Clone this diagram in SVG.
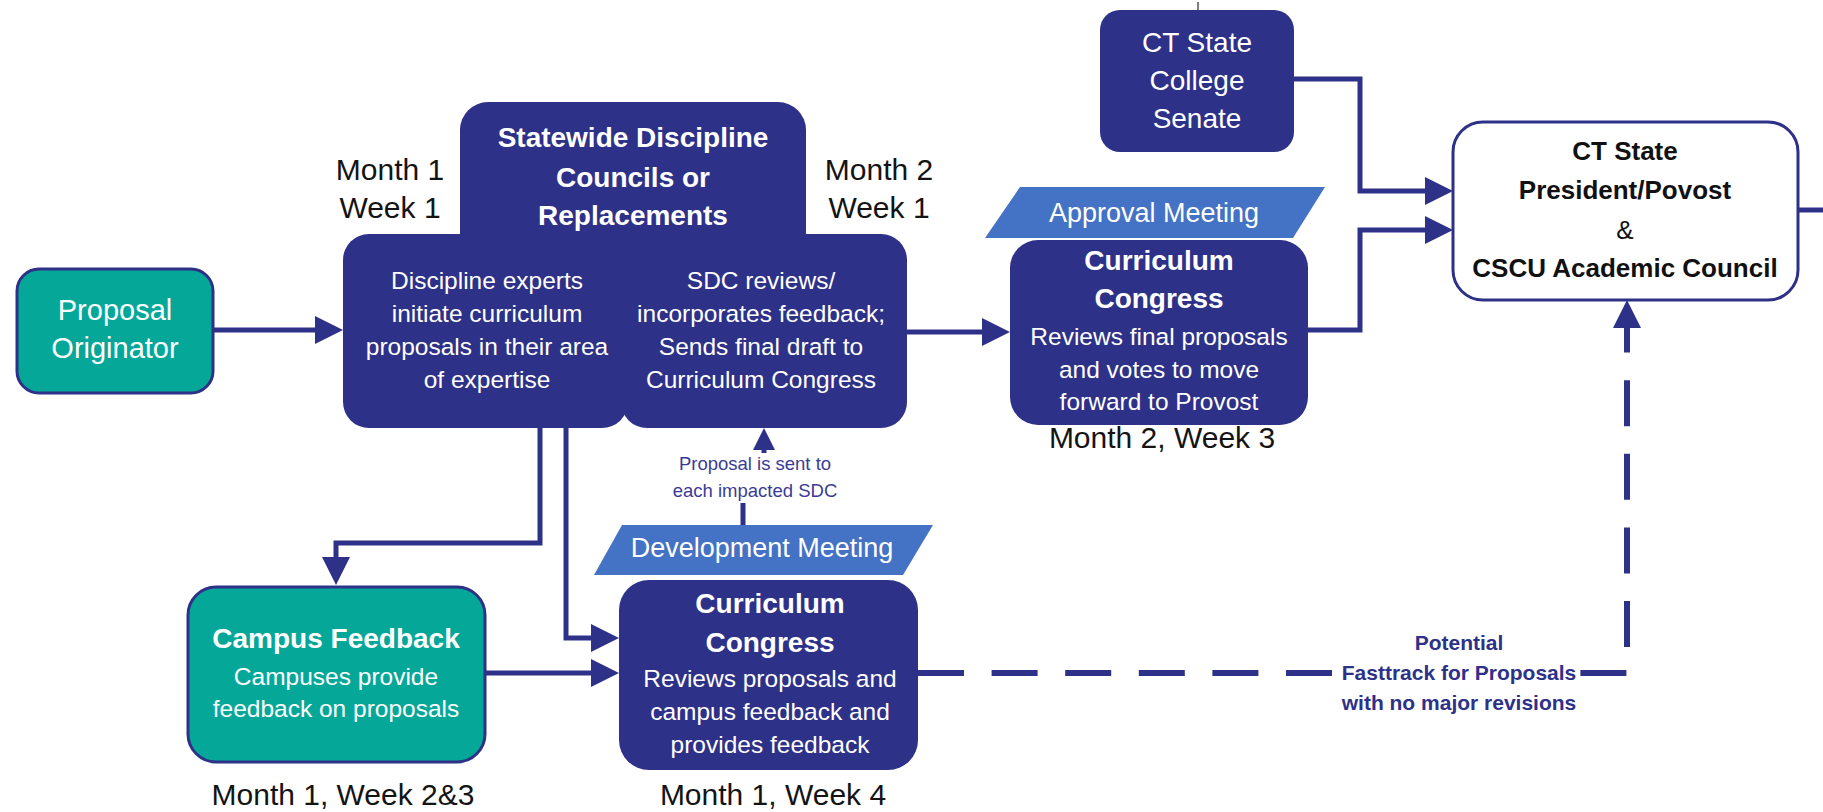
<svg xmlns="http://www.w3.org/2000/svg" width="1823" height="812" viewBox="0 0 1823 812">
<defs>
<style>
text{font-family:"Liberation Sans",Arial,sans-serif;text-anchor:middle}
.navy{fill:#2E3188}
.teal{fill:#05A898;stroke:#2E3188;stroke-width:3}
.para{fill:#4472C4}
.w{fill:#ffffff}
.b{font-weight:bold}
.body{font-size:24.5px}
.ttl{font-size:28px;font-weight:bold}
.month{font-size:30px;fill:#141414}
.conn{fill:none;stroke:#2E3188;stroke-width:5}
.dash{fill:none;stroke:#2E3188;stroke-width:6;stroke-dasharray:46 27.6}
</style>
<marker id="ah" viewBox="0 0 28 28" refX="8" refY="14" markerWidth="28" markerHeight="28" markerUnits="userSpaceOnUse" orient="auto">
<path d="M0,0 L28,14 L0,28 Z" fill="#2E3188"/>
</marker>
<marker id="ahs" viewBox="0 0 22 22" refX="4" refY="11" markerWidth="22" markerHeight="22" markerUnits="userSpaceOnUse" orient="auto">
<path d="M0,0 L22,11 L0,22 Z" fill="#2E3188"/>
</marker>
</defs>
<rect width="1823" height="812" fill="#ffffff"/>

<g id="connectors">
<path class="conn" d="M213,330 H323" marker-end="url(#ah)"/>
<path class="conn" d="M907,332 H990" marker-end="url(#ah)"/>
<path class="conn" d="M1294,79 H1360 V191 H1433" marker-end="url(#ah)"/>
<path class="conn" d="M1308,330 H1360 V230 H1433" marker-end="url(#ah)"/>
<path class="conn" d="M1798,210 H1823"/>
<path class="conn" d="M540,426 V543 H336 V565" marker-end="url(#ah)"/>
<path class="conn" d="M566,426 V638 H599" marker-end="url(#ah)"/>
<path class="conn" d="M485,673 H599" marker-end="url(#ah)"/>
<path class="conn" d="M743,527 V503"/>
<path class="conn" d="M764,453 V446" marker-end="url(#ahs)"/>
<path class="dash" d="M918,673 H1627"/>
<path class="dash" d="M1627,647 V320" marker-end="url(#ah)"/>
<line x1="1198" y1="2" x2="1198" y2="10" stroke="#555" stroke-width="1.5"/>
<rect x="1336" y="657" width="243" height="32" fill="#ffffff"/>
<g fill="#2E3188" class="b" font-size="21">
<text x="1459" y="650">Potential</text>
<text x="1459" y="680">Fasttrack for Proposals</text>
<text x="1459" y="710">with no major revisions</text>
</g>
<g fill="#3A3C94" font-size="18.5">
<text x="755" y="470">Proposal is sent to</text>
<text x="755" y="497">each impacted SDC</text>
</g>
</g>

<g id="proposal-originator">
<rect class="teal" x="17" y="269" width="196" height="124" rx="22"/>
<text class="w" font-size="29" x="115" y="320">Proposal</text>
<text class="w" font-size="29" x="115" y="358">Originator</text>
</g>

<g id="sdc">
<rect class="navy" x="460" y="102" width="346" height="160" rx="28"/>
<rect class="navy" x="343" y="234" width="285" height="194" rx="26"/>
<rect class="navy" x="621" y="234" width="286" height="194" rx="26"/>
<text class="w ttl" x="633" y="147">Statewide Discipline</text>
<text class="w ttl" x="633" y="187">Councils or</text>
<text class="w ttl" x="633" y="225">Replacements</text>
<g class="w body">
<text x="487" y="289">Discipline experts</text>
<text x="487" y="322">initiate curriculum</text>
<text x="487" y="355">proposals in their area</text>
<text x="487" y="388">of expertise</text>
<text x="761" y="289">SDC reviews/</text>
<text x="761" y="322">incorporates feedback;</text>
<text x="761" y="355">Sends final draft to</text>
<text x="761" y="388">Curriculum Congress</text>
</g>
</g>

<g id="month-labels">
<text class="month" x="390" y="180">Month 1</text>
<text class="month" x="390" y="218">Week 1</text>
<text class="month" x="879" y="180">Month 2</text>
<text class="month" x="879" y="218">Week 1</text>
<text class="month" x="1162" y="448">Month 2, Week 3</text>
<text class="month" x="343" y="805">Month 1, Week 2&amp;3</text>
<text class="month" x="773" y="805">Month 1, Week 4</text>
</g>

<g id="ct-senate">
<rect class="navy" x="1100" y="10" width="194" height="142" rx="20"/>
<text class="w" font-size="28" x="1197" y="52">CT State</text>
<text class="w" font-size="28" x="1197" y="90">College</text>
<text class="w" font-size="28" x="1197" y="128">Senate</text>
</g>

<g id="approval-meeting">
<polygon class="para" points="1020,187 1325,187 1293,238 985,238"/>
<text class="w" font-size="27" x="1154" y="222">Approval Meeting</text>
</g>

<g id="congress-approval">
<rect class="navy" x="1010" y="240" width="298" height="185" rx="28"/>
<text class="w ttl" x="1159" y="270">Curriculum</text>
<text class="w ttl" x="1159" y="308">Congress</text>
<g class="w body">
<text x="1159" y="345">Reviews final proposals</text>
<text x="1159" y="378">and votes to move</text>
<text x="1159" y="410">forward to Provost</text>
</g>
</g>

<g id="president">
<rect x="1453" y="122" width="345" height="178" rx="30" fill="#ffffff" stroke="#2E3188" stroke-width="3"/>
<g fill="#111111" font-size="26">
<text class="b" x="1625" y="160">CT State</text>
<text class="b" x="1625" y="199">President/Povost</text>
<text x="1625" y="239">&amp;</text>
<text class="b" x="1625" y="277">CSCU Academic Council</text>
</g>
</g>

<g id="campus-feedback">
<rect class="teal" x="188" y="587" width="297" height="175" rx="28"/>
<text class="w ttl" x="336" y="648">Campus Feedback</text>
<text class="w body" x="336" y="685">Campuses provide</text>
<text class="w body" x="336" y="717">feedback on proposals</text>
</g>

<g id="development-meeting">
<polygon class="para" points="622,525 933,525 903,575 594,575"/>
<text class="w" font-size="27" x="762" y="557">Development Meeting</text>
</g>

<g id="congress-development">
<rect class="navy" x="619" y="580" width="299" height="190" rx="30"/>
<text class="w ttl" x="770" y="613">Curriculum</text>
<text class="w ttl" x="770" y="652">Congress</text>
<g class="w body">
<text x="770" y="687">Reviews proposals and</text>
<text x="770" y="720">campus feedback and</text>
<text x="770" y="753">provides feedback</text>
</g>
</g>
</svg>
